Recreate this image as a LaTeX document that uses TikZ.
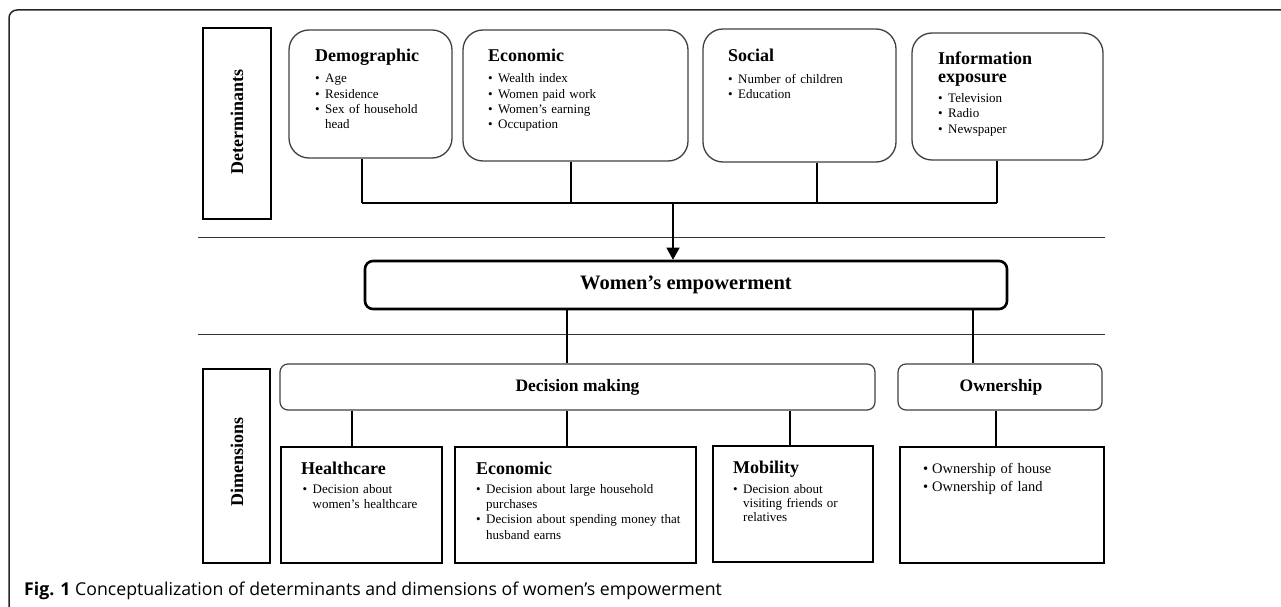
\documentclass[tikz,border=0pt]{standalone}
\usepackage{fontspec}
\setmainfont{Liberation Serif}
\newfontfamily\capfont{Open Sans}
\usetikzlibrary{arrows.meta}
\newcommand{\hd}[1]{{\fontsize{18}{20}\selectfont\bfseries #1}}
\newcommand{\bl}{\makebox[10pt][l]{\textbullet}}
\newcommand{\ct}{\hspace*{10pt}}
\tikzset{
  detbox/.style={draw=black!75, line width=1.3pt, rounded corners=20pt, inner sep=0pt},
  labbox/.style={draw=black, line width=2pt, inner sep=0pt},
  dimbox/.style={draw=black, line width=2pt, inner sep=0pt},
  rbox/.style={draw=black!75, line width=1.2pt, rounded corners=8pt, inner sep=0pt},
  wbox/.style={draw=black, line width=2.6pt, rounded corners=8pt, inner sep=0pt},
  conn/.style={draw=black, line width=1.8pt},
  tconn/.style={draw=black, line width=1.3pt},
  sepline/.style={draw=black!80, line width=1pt},
  txt/.style={anchor=base west, inner sep=0pt, text width=260pt, align=left, font=\fontsize{13}{15.3}\selectfont},
  vlab/.style={rotate=90, inner sep=0pt, font=\fontsize{18}{20}\selectfont\bfseries},
  mlab/.style={inner sep=0pt, font=\fontsize{17.5}{20}\selectfont\bfseries}
}
\begin{document}
\begin{tikzpicture}[x=1pt,y=-1pt]
\useasboundingbox (0,0) rectangle (1281,607);
% outer frame
\draw[line width=1.5pt, black!85, rounded corners=8pt] (1281,10) -- (9,10) -- (9,607);

% label boxes
\node[labbox, minimum width=68pt, minimum height=191pt] (detlab) at (237,123.5) {};
\node[vlab] (dettx) at (237,122) {Determinants};
\node[labbox, minimum width=67pt, minimum height=194pt] (dimlab) at (236.5,466) {};
\node[vlab] (dimtx) at (237,462) {Dimensions};

% determinant boxes
\node[detbox, minimum width=163pt, minimum height=128pt] (demo) at (370.5,94) {};
\node[detbox, minimum width=225pt, minimum height=131pt] (econ) at (575.5,95.5) {};
\node[detbox, minimum width=193pt, minimum height=133pt] (soc) at (799.5,95.5) {};
\node[detbox, minimum width=191pt, minimum height=127pt] (info) at (1007.5,96.5) {};

\node[txt] (demotx) at (315,62) {\hd{Demographic}\\[5.5pt]\bl Age\\\bl Residence\\\bl Sex of household\\\ct head};
\node[txt] (econtx) at (488,62) {\hd{Economic}\\[5.5pt]\bl Wealth index\\\bl Women paid work\\\bl Women’s earning\\\bl Occupation};
\node[txt] (soctx) at (728,62) {\hd{Social}\\[6.2pt]\bl Number of children\\\bl Education};
\node[txt] (infotx) at (938,65) {\hd{Information}\\[2.7pt]\hd{exposure}\\[4.2pt]\bl Television\\\bl Radio\\\bl Newspaper};

% bus
\coordinate (j1) at (362,203);
\coordinate (j2) at (571,203);
\coordinate (j3) at (817,203);
\coordinate (j4) at (997,203);
\coordinate (jm) at (673,203);
\draw[conn] (demo.south -| j1) -- (j1);
\draw[conn] (econ.south -| j2) -- (j2);
\draw[conn] (soc.south -| j3) -- (j3);
\draw[conn] (info.south -| j4) -- (j4);
\draw[conn] (j1) -- (j4);

% separators
\coordinate (s1a) at (198,237);
\coordinate (s1b) at (1105,237);
\coordinate (s2a) at (198,334);
\coordinate (s2b) at (1105,334);
\draw[sepline] (s1a) -- (s1b);
\draw[sepline] (s2a) -- (s2b);

% women's empowerment
\node[wbox, minimum width=642pt, minimum height=48pt] (women) at (686,285) {};
\node[inner sep=0pt, font=\fontsize{20.5}{22}\selectfont\bfseries] (womentx) at (686,285) {Women’s empowerment};
\draw[tconn, -{Triangle[width=13pt,length=12pt]}] (jm) -- (women.north -| jm);

% dimension headers
\node[rbox, minimum width=595pt, minimum height=46pt] (dec) at (577.5,387) {};
\node[mlab] (dectx) at (577.5,387) {Decision making};
\node[rbox, minimum width=204pt, minimum height=46pt] (own) at (1000,387) {};
\node[mlab] (owntx) at (1001,387) {Ownership};

\coordinate (wd) at (567,0);
\coordinate (wo) at (973,0);
\draw[tconn] (women.south -| wd) -- (dec.north -| wd);
\draw[tconn] (women.south -| wo) -- (own.north -| wo);

% dimension boxes
\node[dimbox, minimum width=161pt, minimum height=116pt] (hc) at (361.5,505) {};
\node[dimbox, minimum width=241pt, minimum height=116pt] (ec2) at (575.5,505) {};
\node[dimbox, minimum width=160pt, minimum height=116pt] (mob) at (793,504) {};
\node[dimbox, minimum width=204pt, minimum height=116pt] (own2) at (1002,505) {};

\coordinate (dh) at (352,0);
\coordinate (de) at (567,0);
\coordinate (dm) at (790,0);
\coordinate (do) at (996,0);
\draw[tconn] (dec.south -| dh) -- (hc.north -| dh);
\draw[tconn] (dec.south -| de) -- (ec2.north -| de);
\draw[tconn] (dec.south -| dm) -- (mob.north -| dm);
\draw[tconn] (own.south -| do) -- (own2.north -| do);

\node[txt] (hctx) at (301,474) {\hd{Healthcare}\\[4.2pt]\hspace*{1.5pt}\bl Decision about\\\hspace*{1.5pt}\ct women’s healthcare};
\node[txt] (ec2tx) at (476,474) {\hd{Economic}\\[3.9pt]\bl Decision about large household\\\ct purchases\\\bl Decision about spending money that\\\ct husband earns};
\node[txt, font=\fontsize{13}{14.3}\selectfont] (mobtx) at (733,473) {\hd{Mobility}\\[5.8pt]\bl Decision about\\\ct visiting friends or\\\ct relatives};
\node[txt, font=\fontsize{14.5}{18}\selectfont] (own2tx) at (923,473) {\makebox[9pt][l]{\textbullet}Ownership of house\\\makebox[9pt][l]{\textbullet}Ownership of land};

% caption
\node[anchor=base west, inner sep=0pt, font=\capfont\fontsize{17.7}{20}\selectfont] (cap) at (24,595) {\textbf{Fig. 1} Conceptualization of determinants and dimensions of women’s empowerment};
\end{tikzpicture}
\end{document}
